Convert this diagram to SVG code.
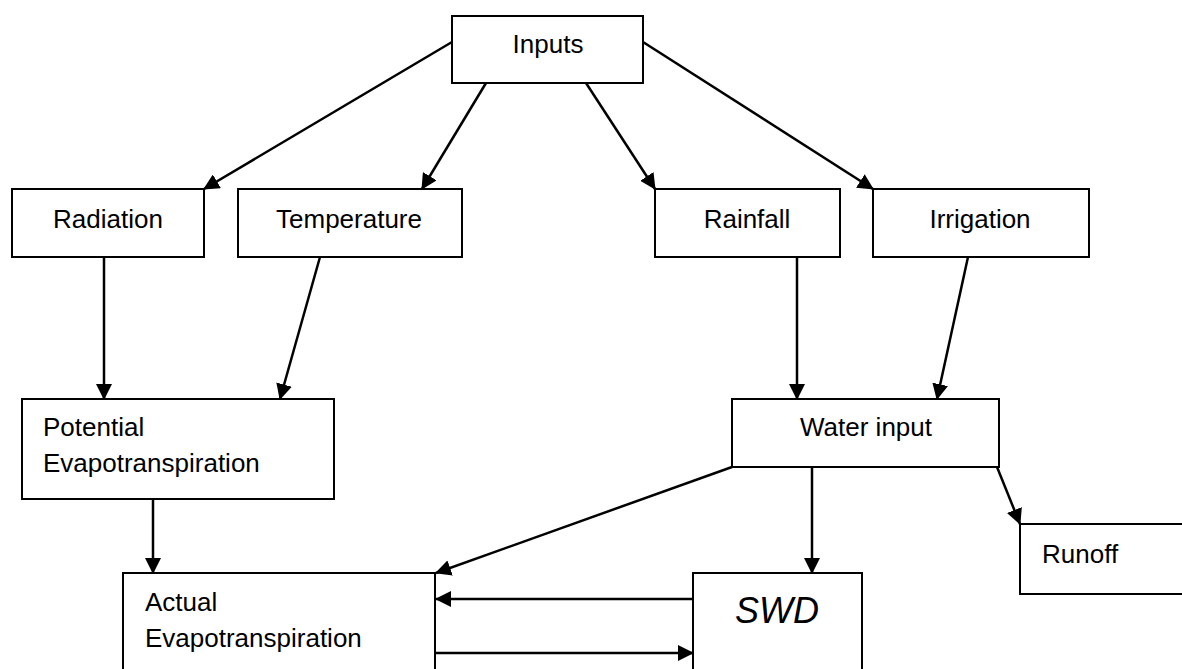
<svg xmlns="http://www.w3.org/2000/svg" width="1182" height="669" viewBox="0 0 1182 669">
<style>
.box{fill:#fff;stroke:#000;stroke-width:2}
.t{font-family:"Liberation Sans",Arial,sans-serif;font-size:26px;fill:#000}
.c{text-anchor:middle}
.conn line{stroke:#000;stroke-width:2.5;marker-end:url(#ah)}
</style>
<defs>
<marker id="ah" markerUnits="userSpaceOnUse" markerWidth="16" markerHeight="16" viewBox="0 0 16 16" refX="15" refY="8" orient="auto">
<path d="M0,0 L16,8 L0,16 z" fill="#000"/>
</marker>
</defs>
<rect width="1182" height="669" fill="#fff"/>
<g id="inputs"><rect class="box" x="452" y="16" width="191" height="67"/><text class="t c" x="548" y="53">Inputs</text></g>
<g id="radiation"><rect class="box" x="12" y="189" width="192" height="68"/><text class="t c" x="108" y="228">Radiation</text></g>
<g id="temperature"><rect class="box" x="238" y="189" width="224" height="68"/><text class="t c" x="349" y="228">Temperature</text></g>
<g id="rainfall"><rect class="box" x="655" y="189" width="185" height="68"/><text class="t c" x="747" y="228">Rainfall</text></g>
<g id="irrigation"><rect class="box" x="873" y="189" width="216" height="68"/><text class="t c" x="980" y="228">Irrigation</text></g>
<g id="pet"><rect class="box" x="22" y="399" width="312" height="100"/><text class="t" x="43" y="436">Potential</text><text class="t" x="43" y="472">Evapotranspiration</text></g>
<g id="water"><rect class="box" x="732" y="399" width="267" height="68"/><text class="t c" x="866" y="436">Water input</text></g>
<g id="runoff"><rect class="box" x="1020" y="524" width="200" height="70"/><text class="t" x="1042" y="563">Runoff</text></g>
<g id="aet"><rect class="box" x="123" y="573" width="312" height="150"/><text class="t" x="145" y="611">Actual</text><text class="t" x="145" y="647">Evapotranspiration</text></g>
<g id="swd"><rect class="box" x="693" y="573" width="169" height="150"/><text class="t c" x="777" y="623" style="font-size:36px;font-style:italic">SWD</text></g>
<g id="connectors" class="conn">
<line x1="452" y1="42" x2="204" y2="189"/>
<line x1="486" y1="83" x2="422" y2="189"/>
<line x1="586" y1="83" x2="655" y2="189"/>
<line x1="643" y1="42" x2="873" y2="189"/>
<line x1="104" y1="257" x2="104" y2="399"/>
<line x1="320" y1="257" x2="280" y2="399"/>
<line x1="797" y1="257" x2="797" y2="399"/>
<line x1="968" y1="257" x2="937" y2="399"/>
<line x1="153" y1="499" x2="153" y2="573"/>
<line x1="732" y1="467" x2="436" y2="573"/>
<line x1="812" y1="467" x2="812" y2="573"/>
<line x1="997" y1="467" x2="1020" y2="524"/>
<line x1="693" y1="599" x2="436" y2="599"/>
<line x1="435" y1="653" x2="693" y2="653"/>
</g>
</svg>
